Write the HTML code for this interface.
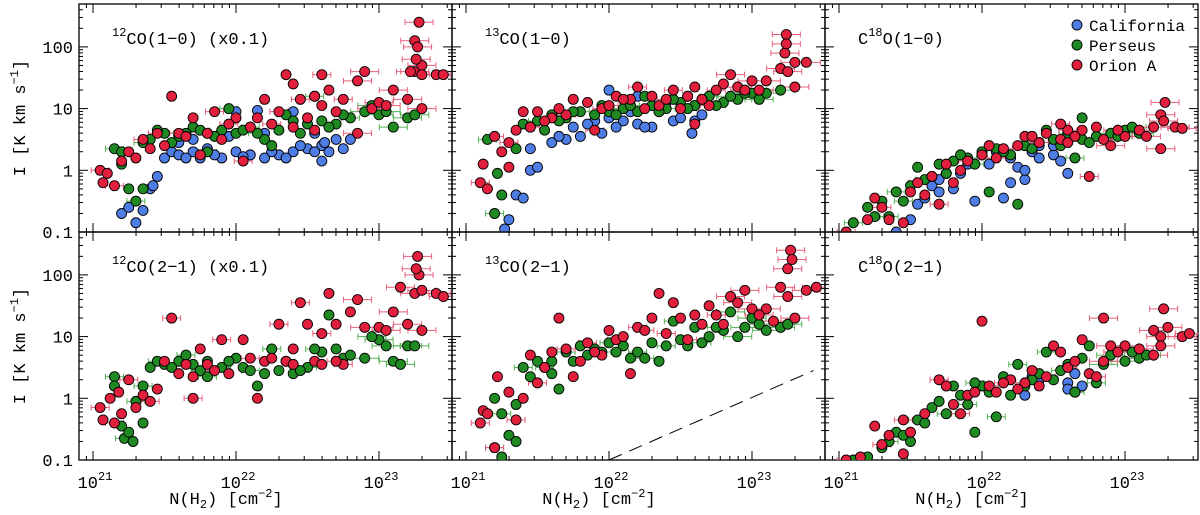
<!DOCTYPE html>
<html><head><meta charset="utf-8"><style>
html,body{margin:0;padding:0;background:#fff}
svg{display:block;font-family:"Liberation Mono",monospace}
</style></head><body>
<svg id="chart" width="1200" height="515" viewBox="0 0 1200 515" xmlns="http://www.w3.org/2000/svg"></svg>
<script>
const panelTitles=[["12","CO(1\u22120) (x0.1)"],["13","CO(1\u22120)"],["18","O(1\u22120)"],["12","CO(2\u22121) (x0.1)"],["13","CO(2\u22121)"],["18","O(2\u22121)"]];
const seriesNames=["California","Perseus","Orion A"];
const yTickValues=[0.1,1,10,100];
const yTickLabels=["0.1","1","10","100"];
const xTickExps=[21,22,23];
// data as [log10 N(H2), log10 I]
const p1Cal=[[21.2,-0.7],[21.25,-0.6],[21.3,-0.85],[21.35,-0.65],[21.4,-0.3],[21.45,-0.1],[21.5,0.2],[21.55,0.3],[21.6,0.25],[21.7,0.3],[21.75,0.2],[21.8,0.35],[21.9,0.2],[22.0,0.3],[22.1,0.25],[22.2,0.2],[22.3,0.25],[22.4,0.3],[22.5,0.35],[22.55,0.6],[22.6,0.4],[22.7,0.5],[22.75,0.35],[22.2,0.6],[22.4,0.95],[22.0,0.95],[22.15,0.97],[21.7,0.5],[21.95,0.55],[22.8,0.5],[22.55,0.3],[22.6,0.15],[22.65,0.3],[21.42,-0.25],[21.65,0.2],[21.85,0.25],[22.05,0.22],[22.25,0.3],[22.35,0.2],[22.45,0.4],[22.62,0.45],[21.6,0.45]];
const p1Per=[[21.15,0.35],[21.2,0.1],[21.25,-0.3],[21.3,-0.5],[21.35,-0.3],[21.4,0.5],[21.5,0.6],[21.6,0.55],[21.7,0.7],[21.8,0.6],[21.9,0.65],[22.0,0.6],[22.1,0.7],[22.2,0.5],[22.3,0.65],[22.35,0.9],[22.4,0.8],[22.5,0.75],[22.55,1.2],[22.6,0.8],[22.7,0.75],[22.8,0.85],[22.9,0.95],[23.0,0.9],[23.1,0.7],[23.2,0.85],[23.25,0.9],[21.95,1.0],[21.55,0.45],[22.25,0.4],[21.8,0.3],[21.45,0.65],[21.65,0.6],[21.75,0.65],[21.85,0.55],[22.05,0.65],[22.15,0.6],[22.45,0.6],[22.65,0.7],[22.75,0.9],[22.95,1.05],[23.05,0.95],[21.35,0.45],[21.2,0.3]];
const p1Ori=[[21.05,0.0],[21.07,-0.2],[21.1,-0.05],[21.15,-0.25],[21.2,0.15],[21.25,0.3],[21.35,0.5],[21.3,0.2],[21.4,0.35],[21.45,0.6],[21.5,0.4],[21.55,1.2],[21.6,0.6],[21.7,0.85],[21.75,0.25],[21.85,0.95],[21.9,0.5],[22.0,0.85],[22.05,0.15],[22.1,0.7],[22.2,1.15],[22.3,0.95],[22.35,1.55],[22.4,1.4],[22.45,1.15],[22.5,0.85],[22.55,1.2],[22.6,1.55],[22.65,1.3],[22.7,0.95],[22.85,1.45],[22.9,1.6],[22.95,1.0],[23.0,1.1],[22.85,0.6],[23.1,1.3],[23.2,1.15],[23.25,1.6],[23.3,1.7],[23.25,2.1],[23.28,2.4],[23.27,2.0],[23.26,1.8],[23.3,1.55],[23.22,1.6],[23.4,1.55],[23.45,1.55],[23.3,1.0],[21.65,0.55],[21.8,0.6],[22.15,0.85],[22.25,0.75],[22.4,0.7],[22.6,1.05],[22.75,1.15],[23.05,1.05],[22.55,0.65],[21.95,0.75]];
const p2Cal=[[21.27,-0.95],[21.3,-0.8],[21.35,-0.4],[21.4,-0.45],[21.45,0.0],[21.5,0.05],[21.45,0.35],[21.6,0.45],[21.7,0.5],[21.8,0.55],[21.75,0.7],[21.9,0.8],[21.95,0.6],[22.0,0.85],[22.0,1.3],[22.1,0.8],[22.2,0.75],[22.3,0.7],[22.35,0.95],[22.45,0.8],[22.55,1.2],[22.6,1.05],[22.58,0.6],[22.6,0.8],[22.65,0.9],[22.4,1.1],[22.2,1.2],[21.65,0.55],[21.85,0.75],[22.05,0.7],[22.15,0.95],[22.25,0.7],[22.5,0.85]];
const p2Per=[[21.15,0.5],[21.22,-0.05],[21.25,-0.4],[21.2,-0.7],[21.35,0.35],[21.4,0.75],[21.5,0.8],[21.6,0.9],[21.7,0.85],[21.8,0.95],[21.9,0.9],[22.0,0.95],[22.1,1.0],[22.2,0.95],[22.3,1.05],[22.4,1.0],[22.5,1.1],[22.6,1.05],[22.7,1.2],[22.8,1.1],[22.9,1.15],[23.0,1.25],[23.1,1.25],[23.2,1.3],[22.25,1.2],[21.55,0.65],[23.05,1.15],[22.75,1.05],[21.45,0.7],[21.65,0.8],[21.75,0.95],[21.95,1.05],[22.05,0.9],[22.15,1.05],[22.35,0.95],[22.45,1.15],[22.55,1.0],[22.65,1.15],[22.85,1.2],[22.95,1.25]];
const p2Ori=[[21.1,-0.2],[21.15,-0.3],[21.12,0.1],[21.2,0.55],[21.25,0.3],[21.3,0.05],[21.3,0.45],[21.35,0.65],[21.4,0.95],[21.45,0.7],[21.5,0.95],[21.6,0.85],[21.7,0.9],[21.75,1.15],[21.85,1.1],[21.95,1.0],[22.05,1.2],[22.15,1.15],[22.2,1.35],[22.3,1.2],[22.35,1.05],[22.45,1.3],[22.55,1.2],[22.6,1.35],[22.7,1.05],[22.8,1.4],[22.85,1.55],[22.9,1.35],[23.0,1.45],[23.1,1.45],[23.2,1.65],[23.25,1.6],[23.23,1.9],[23.24,2.2],[23.24,2.05],[23.3,1.75],[23.38,1.75],[23.3,1.35],[22.6,0.75],[21.9,0.65],[21.55,0.8],[21.65,1.0],[22.0,1.05],[22.1,1.15],[22.25,1.0],[22.4,1.15],[22.5,1.0],[22.65,1.15],[22.75,1.3],[22.95,1.3],[23.05,1.3]];
const p3Cal=[[21.4,-1.0],[21.5,-0.8],[21.55,-0.55],[21.6,-0.45],[21.65,-0.25],[21.7,-0.15],[21.75,-0.05],[21.8,-0.3],[21.85,-0.05],[21.9,0.1],[22.0,0.25],[22.1,0.3],[22.15,-0.45],[22.2,0.2],[22.25,0.05],[22.3,-0.15],[22.35,0.3],[22.4,0.4],[22.5,0.25],[22.55,0.15],[22.6,-0.05],[22.3,0.0],[21.95,-0.5],[22.2,-0.2],[22.5,0.4],[21.7,-0.35],[22.05,0.1],[22.4,0.2]];
const p3Per=[[21.1,-0.85],[21.2,-0.6],[21.3,-0.5],[21.4,-0.35],[21.5,-0.25],[21.55,0.05],[21.6,-0.15],[21.7,0.1],[21.8,0.15],[21.9,0.2],[22.0,0.3],[22.05,-0.35],[22.1,0.35],[22.2,0.25],[22.25,-0.55],[22.3,0.4],[22.4,0.45],[22.5,0.5],[22.6,0.6],[22.7,0.5],[22.8,0.55],[22.9,0.6],[23.0,0.65],[23.1,0.6],[22.65,0.2],[22.7,0.85],[21.75,-0.05],[21.35,-0.75],[22.45,0.65],[23.05,0.7],[21.45,-0.5],[21.65,-0.1],[21.85,0.25],[21.95,0.1],[22.15,0.3],[22.35,0.35],[22.55,0.4],[22.75,0.45],[22.95,0.55],[21.25,-0.75]];
const p3Ori=[[21.05,-1.0],[21.2,-0.8],[21.25,-0.45],[21.3,-0.6],[21.45,-0.85],[21.5,-0.35],[21.55,-0.2],[21.6,-0.4],[21.65,-0.1],[21.7,-0.55],[21.75,0.1],[21.85,0.0],[21.9,0.15],[22.0,0.25],[22.05,0.4],[22.15,0.35],[22.25,0.4],[22.3,0.55],[22.4,0.45],[22.45,0.6],[22.55,0.5],[22.6,0.65],[22.6,0.45],[22.7,0.65],[22.75,-0.1],[22.8,0.7],[22.9,0.4],[23.0,0.55],[23.1,0.65],[23.2,0.7],[23.25,0.9],[23.28,1.1],[23.25,0.35],[23.27,0.8],[23.35,0.7],[23.4,0.68],[22.55,0.75],[21.35,-0.8],[21.8,-0.2],[22.1,0.2],[22.35,0.55],[22.65,0.55],[22.85,0.5],[22.95,0.65],[23.15,0.55]];
const p4Cal=[];
const p4Per=[[21.15,0.35],[21.15,0.2],[21.2,-0.45],[21.22,-0.65],[21.25,-0.55],[21.28,-0.7],[21.3,-0.05],[21.35,-0.4],[21.4,0.5],[21.45,0.6],[21.5,0.55],[21.6,0.6],[21.65,0.7],[21.7,0.55],[21.8,0.6],[21.9,0.5],[22.0,0.65],[22.05,0.5],[22.1,0.45],[22.15,0.2],[22.2,0.4],[22.25,0.8],[22.3,0.45],[22.35,0.6],[22.5,0.5],[22.6,0.75],[22.7,0.8],[22.75,0.65],[22.9,0.65],[23.0,0.95],[23.05,0.85],[23.1,0.6],[23.2,0.85],[23.25,0.85],[22.65,1.35],[23.15,0.55],[21.8,0.35],[22.4,0.4],[21.55,0.5],[21.75,0.45],[21.95,0.6],[22.45,0.45],[22.55,0.8],[22.8,0.7],[22.95,1.0],[21.35,0.2]];
const p4Ori=[[21.05,-0.15],[21.07,-0.35],[21.12,0.0],[21.15,-0.4],[21.18,0.1],[21.2,-0.25],[21.25,0.3],[21.3,-0.15],[21.35,0.05],[21.4,-0.05],[21.45,0.15],[21.5,0.6],[21.55,1.3],[21.6,0.4],[21.7,0.35],[21.7,0.0],[21.75,0.8],[21.8,0.55],[21.9,0.95],[21.95,0.4],[22.05,0.95],[22.1,0.65],[22.15,0.0],[22.2,0.6],[22.3,1.2],[22.35,0.6],[22.4,0.8],[22.45,1.55],[22.5,1.2],[22.55,0.6],[22.6,1.05],[22.65,1.7],[22.7,1.2],[22.75,0.55],[22.8,1.4],[22.85,1.6],[22.9,1.15],[23.0,1.15],[23.1,1.4],[23.15,1.8],[23.2,1.2],[23.25,1.7],[23.28,2.0],[23.27,2.3],[23.26,2.1],[23.3,1.75],[23.4,1.7],[23.45,1.65],[23.3,1.1],[22.4,0.55],[21.65,0.55],[21.85,0.45],[22.25,0.65],[22.6,0.55],[22.7,0.6],[23.05,1.1]];
const p5Cal=[];
const p5Per=[[21.2,-0.8],[21.25,-0.95],[21.2,0.0],[21.25,-0.25],[21.3,-0.6],[21.35,-0.7],[21.4,0.5],[21.45,0.35],[21.5,0.6],[21.55,0.5],[21.6,0.6],[21.65,0.15],[21.7,0.75],[21.8,0.85],[21.9,0.8],[22.0,0.9],[22.1,0.85],[22.15,0.65],[22.2,0.75],[22.3,0.9],[22.35,0.6],[22.4,0.85],[22.5,0.95],[22.6,1.15],[22.65,0.9],[22.7,1.0],[22.8,1.1],[22.9,1.0],[23.0,1.3],[23.05,1.2],[23.1,1.1],[23.2,1.15],[23.25,1.2],[22.45,1.25],[22.85,1.4],[21.75,0.6],[22.25,0.65],[21.6,0.4],[21.85,0.7],[21.95,0.75],[22.05,0.75],[22.55,0.85],[22.75,1.15],[22.95,1.15],[21.35,-0.1]];
const p5Ori=[[21.1,-0.4],[21.12,-0.2],[21.15,-0.25],[21.2,-0.8],[21.22,0.35],[21.3,0.1],[21.35,-0.35],[21.4,0.0],[21.45,0.7],[21.5,0.25],[21.55,0.5],[21.65,1.3],[21.7,0.8],[21.75,0.35],[21.8,0.6],[21.85,0.9],[21.95,0.7],[22.0,1.1],[22.05,0.95],[22.1,1.0],[22.15,0.4],[22.2,1.15],[22.3,1.3],[22.35,1.7],[22.4,1.05],[22.45,1.55],[22.5,1.3],[22.55,0.95],[22.6,1.35],[22.7,1.5],[22.75,1.35],[22.8,1.2],[22.85,1.65],[22.9,1.55],[22.95,1.75],[23.0,1.45],[23.1,1.45],[23.15,1.25],[23.2,1.8],[23.25,2.1],[23.27,2.4],[23.28,2.25],[23.3,1.3],[23.38,1.75],[23.45,1.8],[23.25,1.65],[21.6,0.75],[21.9,0.75],[22.25,1.1],[22.65,1.2],[23.05,1.35]];
const p6Cal=[[22.3,0.05],[22.35,0.35],[22.4,0.3],[22.6,0.25],[22.6,0.15],[22.65,0.4],[22.65,0.1],[22.7,0.2]];
const p6Per=[[21.1,-1.0],[21.2,-0.95],[21.3,-0.8],[21.35,-0.7],[21.4,-0.55],[21.5,-0.7],[21.55,-0.35],[21.6,-0.4],[21.65,-0.15],[21.75,-0.25],[21.8,0.2],[21.85,0.05],[21.9,-0.1],[22.0,0.2],[22.05,0.1],[22.1,-0.3],[22.15,0.35],[22.2,0.05],[22.25,0.55],[22.3,0.2],[22.4,0.4],[22.45,0.75],[22.5,0.3],[22.6,0.55],[22.65,0.1],[22.7,0.65],[22.75,0.85],[22.8,0.25],[22.9,0.7],[23.0,0.6],[23.1,0.65],[23.15,0.7],[21.95,-0.55],[22.55,0.45],[21.45,-0.6],[21.7,-0.05],[21.95,0.25],[22.35,0.3],[22.85,0.55],[23.05,0.75]];
const p6Ori=[[21.05,-1.0],[21.15,-0.95],[21.25,-0.45],[21.3,-0.75],[21.35,-0.6],[21.45,-0.9],[21.45,-0.35],[21.5,-0.55],[21.6,-0.25],[21.7,0.3],[21.75,0.2],[21.8,-0.1],[21.85,-0.25],[21.9,0.05],[22.0,1.25],[22.05,0.2],[22.1,0.1],[22.2,0.3],[22.3,0.25],[22.35,0.45],[22.4,0.2],[22.45,0.35],[22.5,0.85],[22.55,0.75],[22.6,0.5],[22.7,0.95],[22.75,0.4],[22.8,0.35],[22.85,0.6],[22.85,1.3],[22.9,0.85],[23.0,0.85],[23.1,0.8],[23.2,1.1],[23.25,1.0],[23.27,1.45],[23.3,1.15],[23.25,0.85],[23.4,1.0],[23.45,1.05],[23.2,0.7],[21.95,0.1],[22.15,0.25],[22.25,0.15],[22.65,0.6],[22.95,0.75]];
const refLine=[[22.0,-1.0],[23.43,0.45]];

const panelData=[[p1Cal,p1Per,p1Ori],[p2Cal,p2Per,p2Ori],[p3Cal,p3Per,p3Ori],[p4Cal,p4Per,p4Ori],[p5Cal,p5Per,p5Ori],[p6Cal,p6Per,p6Ori]];
const NS="http://www.w3.org/2000/svg";
const svg=document.getElementById('chart');
const colLeft=[79,452,825], PW=373, rowTop=[4,232], PH=228, DEC=143, YDEC=61.7;
const fill=["#4f7de6","#1f8a22","#e2203e"], errc=["#6f93e8","#55b055","#e8607a"];
function mk(tag,attrs,parent){const e=document.createElementNS(NS,tag);for(const k in attrs)e.setAttribute(k,attrs[k]);(parent||svg).appendChild(e);return e;}
function xS(c,v){return colLeft[c]+157+(v-22)*DEC;}
function yS(r,v){return rowTop[r]+PH-(v+1)*YDEC;}

for(let p=0;p<6;p++){
  const c=p%3,r=Math.floor(p/3),L=colLeft[c],T=rowTop[r];
  const g=mk('g',{});
  
  
  const cid='clip'+p;
  const cp=mk('clipPath',{id:cid},g);mk('rect',{x:L,y:T,width:PW,height:PH},cp);
  const frame=mk('rect',{x:L,y:T,width:PW,height:PH,fill:'none',stroke:'#000','stroke-width':1.3},g);
  
  
  const tk=mk('g',{stroke:'#000','stroke-width':1},g);
  for(let e=20;e<=23;e++)for(let m=1;m<10;m++){
    const v=e+Math.log10(m);const x=xS(c,v);if(x<L+1||x>L+PW-1)continue;
    const len=m===1?9:4;
    mk('line',{x1:x,x2:x,y1:T+PH,y2:T+PH-len},tk);mk('line',{x1:x,x2:x,y1:T,y2:T+len},tk);
  }
  for(let e=-2;e<=3;e++)for(let m=1;m<10;m++){
    const v=e+Math.log10(m);const y=yS(r,v);if(y<T+1||y>T+PH-1)continue;
    const len=m===1?9:4;
    mk('line',{x1:L,x2:L+len,y1:y,y2:y},tk);mk('line',{x1:L+PW,x2:L+PW-len,y1:y,y2:y},tk);
  }
  const tt=mk('text',{x:L+33,y:T+40,'font-size':17,fill:'#000'},g);
  
  
  const t=panelTitles[p];
  if(c===2){const a=mk('tspan',{},tt);a.textContent='C';}
  const s1=mk('tspan',{dy:-8,'font-size':12},tt);s1.textContent=t[0];const b1=mk('tspan',{dy:8},tt);b1.textContent=t[1];
  const dg=mk('g',{'clip-path':'url(#'+cid+')'},g);
  if(p===4){const ln=mk('line',{x1:xS(c,refLine[0][0]),y1:yS(r,refLine[0][1]),x2:xS(c,refLine[1][0]),y2:yS(r,refLine[1][1]),stroke:'#000','stroke-width':1,'stroke-dasharray':'14,8'},dg);
    
    }
  panelData[p].forEach((arr,s)=>{
    arr.forEach((pt,i)=>{
      const x=xS(c,pt[0]),y=yS(r,pt[1]);
      if(s>0&&(i%3===0||pt[0]>22.8)){
        const w=pt[0]>22.8?14:9;
        const eb=mk('path',{d:`M${x-w},${y}H${x+w}M${x-w},${y-3}V${y+3}M${x+w},${y-3}V${y+3}`,stroke:errc[s],'stroke-width':1,fill:'none'},dg);
        
        
      }
    });
  });
  panelData[p].forEach((arr,s)=>{
    arr.forEach(pt=>{
      const ci=mk('circle',{cx:xS(c,pt[0]),cy:yS(r,pt[1]),r:5,fill:fill[s],stroke:'#000','stroke-width':0.9},dg);
      
      
    });
  });
  if(c===0){
    yTickValues.forEach((v,i)=>{const y=yS(r,Math.log10(v));if(y<T-2)return;
      const tl=mk('text',{x:L-6,y:y+6,'text-anchor':'end','font-size':17},g);
      
      
      tl.textContent=yTickLabels[i];});
    const yt=mk('text',{transform:`translate(25,${T+PH/2}) rotate(-90)`,'text-anchor':'middle','font-size':17},g);
    
    
    const a=mk('tspan',{},yt);a.textContent='I [K km s';const b=mk('tspan',{dy:-7,'font-size':12},yt);b.textContent='\u22121';const d=mk('tspan',{dy:7},yt);d.textContent=']';
  }
  if(r===1){
    xTickExps.forEach(e=>{const x=xS(c,e);
      const tl=mk('text',{x:x+2,y:488,'text-anchor':'middle','font-size':17},g);
      
      
      const a=mk('tspan',{},tl);a.textContent='10';const b=mk('tspan',{dy:-8,'font-size':12},tl);b.textContent=String(e);});
    const xt=mk('text',{x:L+147,y:504,'text-anchor':'middle','font-size':17},g);
    
    
    const a=mk('tspan',{},xt);a.textContent='N(H';const b=mk('tspan',{dy:4,'font-size':12},xt);b.textContent='2';const d=mk('tspan',{dy:-4},xt);d.textContent=') [cm';const e2=mk('tspan',{dy:-7,'font-size':12},xt);e2.textContent='\u22122';const f=mk('tspan',{dy:7},xt);f.textContent=']';
  }
}
const lg=mk('g',{});


seriesNames.forEach((n,s)=>{
  const y=25+s*20;
  const e=mk('g',{},lg);
  
  
  mk('circle',{cx:1077,cy:y,r:5,fill:fill[s],stroke:'#000','stroke-width':0.9},e);
  const t=mk('text',{x:1089,y:y+6,'font-size':16},e);t.textContent=n;
});
</script>
</body></html>
